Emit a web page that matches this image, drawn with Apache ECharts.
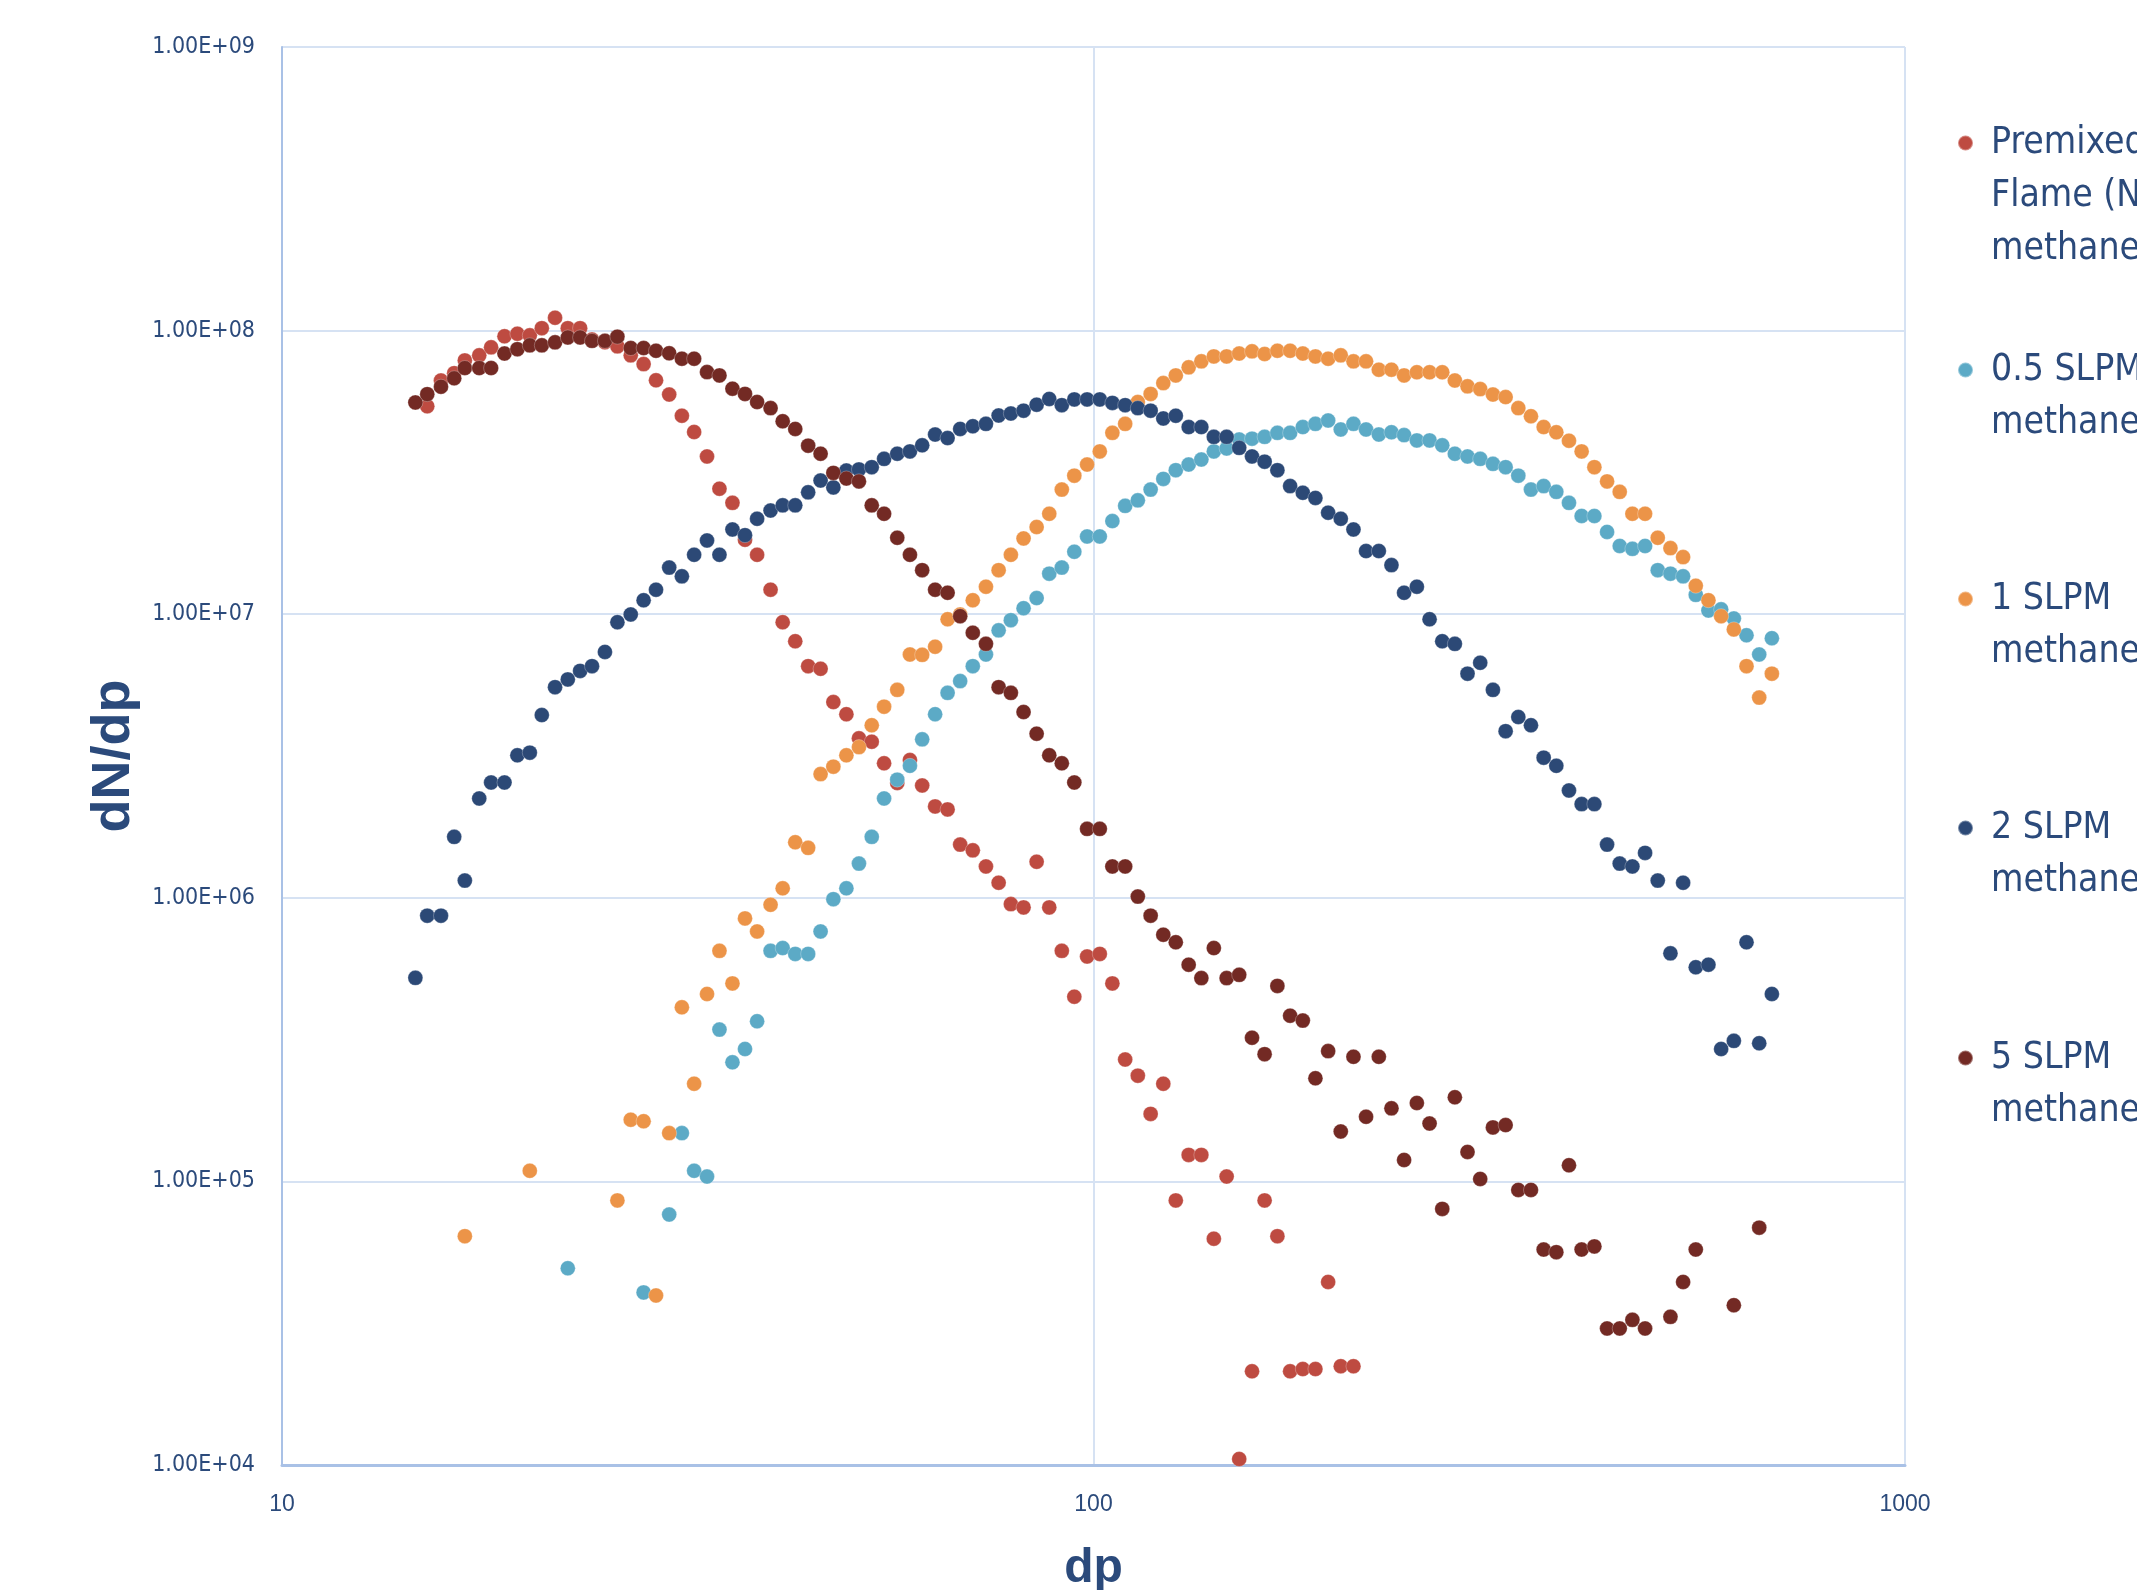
<!DOCTYPE html>
<html>
<head>
<meta charset="utf-8">
<script src="https://cdn.jsdelivr.net/npm/echarts@6/dist/echarts.min.js"></script>
<style>
html,body{margin:0;padding:0;background:#ffffff;}
#chart{width:2137px;height:1590px;}
</style>
</head>
<body>
<div id="chart"></div>
<script>
// particle diameter bins (nm)
const diameters = [
  14.6, 15.1, 15.7, 16.3, 16.8, 17.5, 18.1, 18.8, 19.5, 20.2,
  20.9, 21.7, 22.5, 23.3, 24.1, 25.0, 25.9, 26.9, 27.9, 28.9,
  30.0, 31.1, 32.2, 33.4, 34.6, 35.9, 37.2, 38.5, 40.0, 41.4,
  42.9, 44.5, 46.1, 47.8, 49.6, 51.4, 53.3, 55.2, 57.3, 59.4,
  61.5, 63.8, 66.1, 68.5, 71.0, 73.7, 76.4, 79.1, 82.0, 85.1,
  88.2, 91.4, 94.7, 98.2, 101.8, 105.5, 109.4, 113.4, 117.6, 121.9,
  126.3, 131.0, 135.8, 140.7, 145.9, 151.2, 156.8, 162.5, 168.5, 174.7,
  181.1, 187.7, 194.6, 201.7, 209.1, 216.7, 224.7, 232.9, 241.4, 250.3,
  259.5, 269.0, 278.8, 289.0, 299.6, 310.6, 322.0, 333.8, 346.0, 358.7,
  371.8, 385.4, 399.5, 414.2, 429.4, 445.1, 461.4, 478.3, 495.8, 514.0,
  532.8, 552.3, 572.5, 593.5, 615.3, 637.8, 661.2, 685.4
];

const premixed = [
  null, 5.41e7, 6.67e7, 7.08e7, 7.85e7, 8.18e7, 8.73e7, 9.55e7, 9.75e7, 9.62e7,
  1.02e8, 1.11e8, 1.02e8, 1.02e8, 9.3e7, 9.1e7, 8.8e7, 8.18e7, 7.62e7, 6.68e7,
  5.95e7, 5.01e7, 4.39e7, 3.6e7, 2.77e7, 2.47e7, 1.83e7, 1.62e7, 1.22e7, 9.37e6,
  8.03e6, 6.56e6, 6.42e6, 4.9e6, 4.44e6, 3.65e6, 3.55e6, 2.98e6, 2.54e6, 3.06e6,
  2.49e6, 2.1e6, 2.05e6, 1.54e6, 1.47e6, 1.29e6, 1.13e6, 9.5e5, 9.25e5, 1.34e6,
  9.25e5, 6.5e5, 4.48e5, 6.21e5, 6.34e5, 4.99e5, 2.69e5, 2.36e5, 1.73e5, 2.21e5,
  8.57e4, 1.24e5, 1.24e5, 6.28e4, 1.04e5, 1.05e4, 2.14e4, 8.57e4, 6.41e4, 2.14e4,
  2.18e4, 2.18e4, 4.42e4, 2.23e4, 2.23e4, null, null, null, null, null,
  null, null, null, null, null, null, null, null, null, null,
  null, null, null, null, null, null, null, null, null, null,
  null, null, null, null, null, null, null, null
];

const slpm05 = [
  null, null, null, null, null, null, null, null, null, null,
  null, null, 4.94e4, null, null, null, null, null, 4.06e4, null,
  7.64e4, 1.48e5, 1.09e5, 1.04e5, 3.43e5, 2.63e5, 2.93e5, 3.67e5, 6.5e5, 6.65e5,
  6.34e5, 6.34e5, 7.61e5, 9.89e5, 1.08e6, 1.32e6, 1.64e6, 2.24e6, 2.61e6, 2.92e6,
  3.62e6, 4.44e6, 5.28e6, 5.81e6, 6.56e6, 7.21e6, 8.77e6, 9.53e6, 1.05e7, 1.14e7,
  1.39e7, 1.46e7, 1.66e7, 1.88e7, 1.88e7, 2.13e7, 2.41e7, 2.52e7, 2.75e7, 3.0e7,
  3.22e7, 3.37e7, 3.51e7, 3.75e7, 3.84e7, 4.13e7, 4.16e7, 4.22e7, 4.36e7, 4.36e7,
  4.57e7, 4.69e7, 4.82e7, 4.48e7, 4.69e7, 4.48e7, 4.3e7, 4.38e7, 4.28e7, 4.1e7,
  4.1e7, 3.94e7, 3.68e7, 3.6e7, 3.53e7, 3.39e7, 3.3e7, 3.08e7, 2.75e7, 2.83e7,
  2.7e7, 2.47e7, 2.22e7, 2.22e7, 1.95e7, 1.74e7, 1.7e7, 1.74e7, 1.43e7, 1.39e7,
  1.36e7, 1.17e7, 1.03e7, 1.04e7, 9.66e6, 8.43e6, 7.21e6, 8.23e6
];

const slpm1 = [
  null, null, null, null, 6.41e4, null, null, null, null, 1.09e5,
  null, null, null, null, null, null, 8.57e4, 1.65e5, 1.63e5, 3.96e4,
  1.48e5, 4.11e5, 2.21e5, 4.58e5, 6.5e5, 4.99e5, 8.46e5, 7.61e5, 9.45e5, 1.08e6,
  1.57e6, 1.5e6, 2.73e6, 2.9e6, 3.18e6, 3.4e6, 4.06e6, 4.72e6, 5.41e6, 7.21e6,
  7.19e6, 7.68e6, 9.6e6, 9.98e6, 1.12e7, 1.25e7, 1.43e7, 1.62e7, 1.85e7, 2.03e7,
  2.26e7, 2.75e7, 3.08e7, 3.37e7, 3.75e7, 4.36e7, 4.69e7, 5.6e7, 5.98e7, 6.53e7,
  6.95e7, 7.42e7, 7.79e7, 8.11e7, 8.11e7, 8.3e7, 8.45e7, 8.27e7, 8.49e7, 8.49e7,
  8.3e7, 8.11e7, 7.96e7, 8.18e7, 7.79e7, 7.79e7, 7.28e7, 7.28e7, 6.95e7, 7.13e7,
  7.13e7, 7.13e7, 6.67e7, 6.36e7, 6.22e7, 5.95e7, 5.83e7, 5.33e7, 4.99e7, 4.57e7,
  4.38e7, 4.09e7, 3.75e7, 3.3e7, 2.94e7, 2.7e7, 2.26e7, 2.26e7, 1.86e7, 1.71e7,
  1.59e7, 1.26e7, 1.12e7, 9.84e6, 8.84e6, 6.56e6, 5.08e6, 6.17e6
];

const slpm2 = [
  5.22e5, 8.65e5, 8.65e5, 1.64e6, 1.15e6, 2.24e6, 2.55e6, 2.55e6, 3.18e6, 3.25e6,
  4.41e6, 5.53e6, 5.89e6, 6.31e6, 6.56e6, 7.36e6, 9.37e6, 9.98e6, 1.12e7, 1.22e7,
  1.46e7, 1.36e7, 1.62e7, 1.82e7, 1.62e7, 1.99e7, 1.9e7, 2.17e7, 2.32e7, 2.42e7,
  2.42e7, 2.69e7, 2.96e7, 2.8e7, 3.21e7, 3.24e7, 3.3e7, 3.53e7, 3.68e7, 3.75e7,
  3.94e7, 4.3e7, 4.18e7, 4.5e7, 4.6e7, 4.69e7, 5.02e7, 5.1e7, 5.22e7, 5.48e7,
  5.74e7, 5.46e7, 5.72e7, 5.72e7, 5.72e7, 5.56e7, 5.46e7, 5.33e7, 5.22e7, 4.9e7,
  5.01e7, 4.57e7, 4.57e7, 4.22e7, 4.22e7, 3.86e7, 3.6e7, 3.45e7, 3.22e7, 2.83e7,
  2.68e7, 2.57e7, 2.28e7, 2.17e7, 1.99e7, 1.67e7, 1.67e7, 1.49e7, 1.19e7, 1.25e7,
  9.6e6, 8.03e6, 7.86e6, 6.17e6, 6.74e6, 5.41e6, 3.87e6, 4.34e6, 4.06e6, 3.12e6,
  2.92e6, 2.39e6, 2.14e6, 2.14e6, 1.54e6, 1.32e6, 1.29e6, 1.44e6, 1.15e6, 6.37e5,
  1.13e6, 5.69e5, 5.81e5, 2.93e5, 3.13e5, 6.97e5, 3.07e5, 4.58e5
];

const slpm5 = [
  5.58e7, 5.97e7, 6.34e7, 6.79e7, 7.38e7, 7.38e7, 7.38e7, 8.3e7, 8.6e7, 8.87e7,
  8.87e7, 9.09e7, 9.46e7, 9.46e7, 9.2e7, 9.2e7, 9.52e7, 8.68e7, 8.68e7, 8.49e7,
  8.32e7, 7.96e7, 7.96e7, 7.14e7, 6.95e7, 6.24e7, 5.98e7, 5.6e7, 5.33e7, 4.79e7,
  4.5e7, 3.93e7, 3.68e7, 3.15e7, 3.01e7, 2.94e7, 2.42e7, 2.26e7, 1.86e7, 1.62e7,
  1.43e7, 1.22e7, 1.19e7, 9.84e6, 8.6e6, 7.86e6, 5.53e6, 5.28e6, 4.52e6, 3.79e6,
  3.18e6, 2.98e6, 2.55e6, 1.75e6, 1.75e6, 1.29e6, 1.29e6, 1.01e6, 8.65e5, 7.41e5,
  6.97e5, 5.81e5, 5.21e5, 6.65e5, 5.21e5, 5.35e5, 3.21e5, 2.81e5, 4.89e5, 3.84e5,
  3.69e5, 2.31e5, 2.88e5, 1.5e5, 2.75e5, 1.69e5, 2.75e5, 1.81e5, 1.19e5, 1.89e5,
  1.6e5, 8.0e4, 1.98e5, 1.27e5, 1.02e5, 1.55e5, 1.58e5, 9.33e4, 9.33e4, 5.75e4,
  5.63e4, 1.14e5, 5.75e4, 5.9e4, 3.03e4, 3.03e4, 3.25e4, 3.03e4, null, 3.33e4,
  4.42e4, 5.75e4, null, null, 3.66e4, null, 6.87e4, null
];

const seriesNames = [
  'Premixed Flame (No methane)',
  '0.5 SLPM methane',
  '1 SLPM methane',
  '2 SLPM methane',
  '5 SLPM methane'
];
const legendLines = [
  ['Premixed', 'Flame (No', 'methane)'],
  ['0.5 SLPM', 'methane'],
  ['1 SLPM', 'methane'],
  ['2 SLPM', 'methane'],
  ['5 SLPM', 'methane']
];
const seriesColors = ['#BE4B41', '#5CAAC6', '#EC9448', '#2C4976', '#732A24'];
const xTickLabels = ['10', '100', '1000'];
const yTickLabels = ['1.00E+04', '1.00E+05', '1.00E+06', '1.00E+07', '1.00E+08', '1.00E+09'];

const seriesValues = [premixed, slpm05, slpm1, slpm2, slpm5];

const textColor = '#2B4A7B';
const narrowFont = "'Liberation Sans Narrow', 'DejaVu Sans Condensed', 'Arial Narrow', sans-serif";
const normalFont = "'Liberation Sans', Arial, sans-serif";

function pairs(vals) {
  const out = [];
  for (let i = 0; i < diameters.length; i++) {
    if (vals[i] != null) out.push([diameters[i], vals[i]]);
  }
  return out;
}

const series = seriesNames.map((name, k) => ({
  name: name,
  type: 'scatter',
  symbol: 'circle',
  symbolSize: 15,
  data: pairs(seriesValues[k]),
  itemStyle: {
    color: seriesColors[k],
    borderColor: 'rgba(255,255,255,0.35)',
    borderWidth: 0.8,
    opacity: 1
  },
  emphasis: { disabled: true },
  z: 2 + k
}));

// one legend per entry so the marker sits beside the first text line
const L = 53;
const legendIconY = [141, 368, 597, 826, 1056];
const legends = seriesNames.map((name, k) => {
  const n = legendLines[k].length;
  const pad = new Array(n - 1).fill('').join('\n');
  const txt = (n > 1 ? pad + '\n' : '') + legendLines[k].join('\n');
  return {
    data: [name],
    orient: 'vertical',
    left: 1957,
    top: legendIconY[k] - (2 * n - 1) * L / 2,
    padding: 0,
    icon: 'circle',
    itemWidth: 15,
    itemHeight: 15,
    selectedMode: false,
    formatter: function () { return txt; },
    textStyle: {
      color: textColor,
      fontSize: 37,
      lineHeight: L,
      fontFamily: narrowFont,
      padding: [4, 0, 0, 13]
    }
  };
});

const option = {
  backgroundColor: '#ffffff',
  animation: false,
  grid: { left: 282, right: 232, top: 47, bottom: 125, containLabel: false, outerBoundsMode: 'none' },
  legend: legends,
  xAxis: {
    type: 'log',
    logBase: 10,
    min: 10,
    max: 1000,
    name: 'dp',
    nameLocation: 'middle',
    nameGap: 80,
    nameTextStyle: { color: textColor, fontSize: 48, fontWeight: 'bold', fontFamily: normalFont },
    axisLine: { show: true, lineStyle: { color: '#A9C1E6', width: 3 } },
    axisTick: { show: false },
    minorTick: { show: false },
    axisLabel: {
      color: textColor,
      fontSize: 23,
      fontFamily: normalFont,
      margin: 28,
      formatter: function (v) {
        const i = Math.round(Math.log10(v)) - 1;
        return xTickLabels[i] !== undefined ? xTickLabels[i] : '';
      }
    },
    splitLine: { show: true, lineStyle: { color: '#D6E2F3', width: 2 } }
  },
  yAxis: {
    type: 'log',
    logBase: 10,
    min: 1e4,
    max: 1e9,
    name: 'dN/dp',
    nameLocation: 'middle',
    nameRotate: 90,
    nameGap: 136,
    nameTextStyle: { color: textColor, fontSize: 54, fontWeight: 'bold', fontFamily: normalFont },
    axisLine: { show: true, lineStyle: { color: '#A9C1E6', width: 2 } },
    axisTick: { show: false },
    minorTick: { show: false },
    axisLabel: {
      color: textColor,
      fontSize: 23,
      fontFamily: narrowFont,
      margin: 27,
      padding: [4, 0, 0, 0],
      formatter: function (v) {
        const i = Math.round(Math.log10(v)) - 4;
        return yTickLabels[i] !== undefined ? yTickLabels[i] : '';
      }
    },
    splitLine: { show: true, lineStyle: { color: '#D6E2F3', width: 2 } }
  },
  series: series
};

const chart = echarts.init(document.getElementById('chart'), null, { renderer: 'canvas', width: 2137, height: 1590 });
chart.setOption(option);
</script>
</body>
</html>
